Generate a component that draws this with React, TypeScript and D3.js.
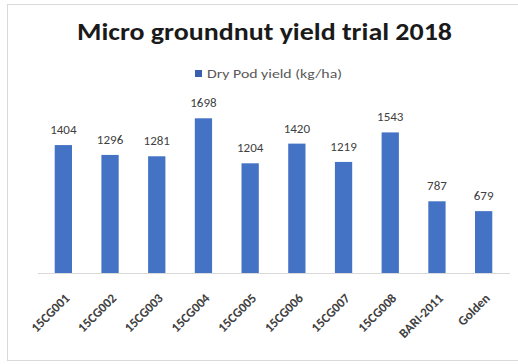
import React from "react";
import * as d3 from "d3";

const categories = ["15CG001", "15CG002", "15CG003", "15CG004", "15CG005", "15CG006", "15CG007", "15CG008", "BARI-2011", "Golden"];
const yieldValues = [1404, 1296, 1281, 1698, 1204, 1420, 1219, 1543, 787, 679];
const seriesName = "Dry Pod yield (kg/ha)";
const title = "Micro groundnut yield trial 2018";

export default function App() {
  const W = 518, H = 364;
  const left = 40, right = 507, top = 109, bottom = 273;
  const x = d3.scaleBand<string>().domain(categories).range([left, right]).paddingInner(0.63).paddingOuter(0.315);
  const y = d3.scaleLinear().domain([0, 1800]).range([bottom, top]);
  const font = "Carlito, 'Open Sans', 'Liberation Sans', sans-serif";
  return (
    <svg width={W} height={H} style={{ position: "absolute", left: 0, top: 0 }}>
      <rect x={0} y={0} width={W} height={H} fill="#ffffff" />
      <rect x={7.5} y={4.5} width={520} height={356} fill="#ffffff" stroke="#d9d9d9" />
      <text x={77} y={40} textLength={375} lengthAdjust="spacingAndGlyphs" fontFamily={font} fontWeight="bold" fontSize={24} fill="#1a1a1a">{title}</text>
      <rect x={195} y={70} width={7} height={7} fill="#3a5fae" />
      <text x={207} y={77.5} textLength={135} lengthAdjust="spacingAndGlyphs" fontFamily={font} fontSize={12} fill="#595959">{seriesName}</text>
      <line x1={38} x2={510} y1={bottom + 0.5} y2={bottom + 0.5} stroke="#d9d9d9" />
      {categories.map((c, i) => (
        <g key={c}>
          <rect x={x(c)} y={y(yieldValues[i])} width={x.bandwidth()} height={bottom - y(yieldValues[i])} fill="#4472c4" />
          <text x={(x(c) as number) + x.bandwidth() / 2} y={y(yieldValues[i]) - 11} textAnchor="middle" fontFamily={font} fontSize={13} fill="#404040">{yieldValues[i]}</text>
          <text transform={`translate(${(x(c) as number) + x.bandwidth() / 2 + 7},${bottom + 26}) rotate(-45)`} textAnchor="end" fontFamily={font} fontSize={13} fontWeight="bold" fill="#404040">{c}</text>
        </g>
      ))}
    </svg>
  );
}
